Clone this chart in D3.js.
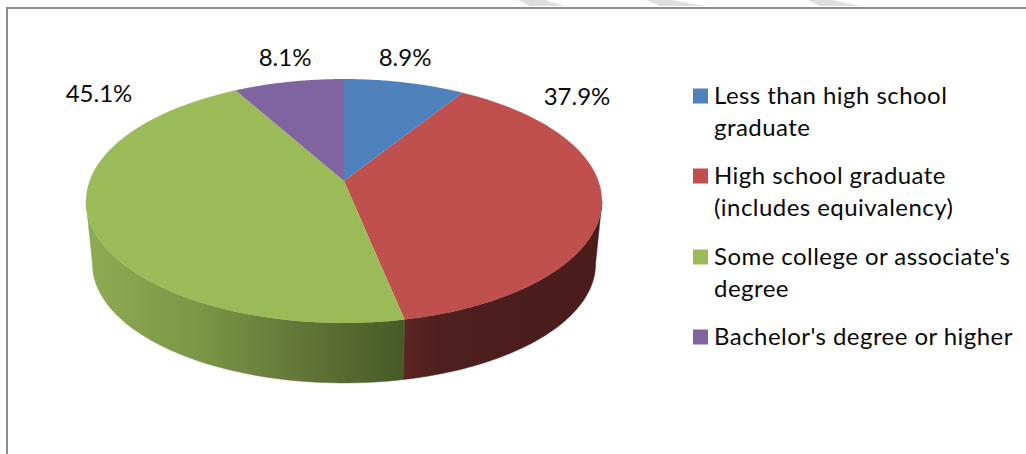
<!DOCTYPE html>
<html>
<head>
<meta charset="utf-8">
<script src="https://cdn.jsdelivr.net/npm/d3@7"></script>
<style>
html,body{margin:0;padding:0;background:#fff;overflow:hidden}
text{font-family:Lato,"Noto Sans",sans-serif;fill:#0a0a0a}
</style>
</head>
<body>
<svg id="c" width="1026" height="454"></svg>
<script>
const categories = ["Less than high school graduate","High school graduate (includes equivalency)","Some college or associate's degree","Bachelor's degree or higher"];
const legendLines = [["Less than high school","graduate"],["High school graduate","(includes equivalency)"],["Some college or associate's","degree"],["Bachelor's degree or higher"]];
const values = [8.9,37.9,45.1,8.1];
const colors = ["#4f81bd","#c0504d","#9bbb59","#8064a2"];
const labelPos = [[405,57],[577,96],[99,93],[285,57]];
const stripes = [[518,545,530,565],[646,672,660,705],[808,832,820,861]];

const svg = d3.select("#c");
const defs = svg.append("defs");

// Remains of the cropped page watermark above the chart frame
svg.append("g").selectAll("path").data(stripes).join("path")
  .attr("d",d=>d3.line()([[d[0],0],[d[1],0],[d[3],6],[d[2],6]])+"Z")
  .attr("fill","#dedede");

// Perspective projection of the pie disc
const cx = 344, cy = 181, a = 254.5, b = 118.7, k = 0.164;
function project(theta, scale, dy){
  const u = Math.sin(theta), v = Math.cos(theta), w = 1 + k*v;
  return [cx + scale*a*u/w, cy + dy - scale*b*v/w];
}
const arcs = d3.pie().sort(null).value(d=>d)(values);
const line = d3.line();
const steps = (s,e)=>d3.range(0,61).map(i=>s+(e-s)*i/60);

// Border
svg.append("path").attr("d","M7 454V8H1026").attr("fill","none").attr("stroke","#8c8c8c").attr("stroke-width",2);

// Side wall
const rightT = Math.PI - Math.acos(k), leftT = Math.PI + Math.acos(k);
const g1 = defs.append("linearGradient").attr("id","gGreen").attr("gradientUnits","userSpaceOnUse").attr("x1",86).attr("x2",405).attr("y1",0).attr("y2",0);
[[0,"#8fab52"],[0.35,"#7b9747"],[0.65,"#647838"],[1,"#475a27"]].forEach(s=>g1.append("stop").attr("offset",s[0]).attr("stop-color",s[1]));
const g2 = defs.append("linearGradient").attr("id","gRed").attr("gradientUnits","userSpaceOnUse").attr("x1",404).attr("x2",602).attr("y1",0).attr("y2",0);
[[0,"#5c2624"],[0.2,"#4d1f1e"],[1,"#4a1d1c"]].forEach(s=>g2.append("stop").attr("offset",s[0]).attr("stop-color",s[1]));
const walls = [{i:1,fill:"url(#gRed)"},{i:2,fill:"url(#gGreen)"}];
const dy = 63.5, sBottom = 0.975;
walls.forEach(w=>{
  const s = Math.max(arcs[w.i].startAngle,rightT), e = Math.min(arcs[w.i].endAngle,leftT);
  const ts = steps(s,e);
  const pts = ts.map(t=>project(t,1,0)).concat(ts.slice().reverse().map(t=>project(t,sBottom,dy)));
  svg.append("path").attr("d",line(pts)+"Z").attr("fill",w.fill).attr("stroke",w.fill).attr("stroke-width",0.5);
});

// Top face
svg.append("g").selectAll("path").data(arcs).join("path")
  .attr("d",d=>line([[cx,cy]].concat(steps(d.startAngle,d.endAngle).map(t=>project(t,1,0))))+"Z")
  .attr("fill",(d,i)=>colors[i]);

// Data labels
svg.append("g").selectAll("text").data(values).join("text")
  .attr("x",(d,i)=>labelPos[i][0]).attr("y",(d,i)=>labelPos[i][1]+9)
  .attr("text-anchor","middle").attr("font-size",24)
  .text(d=>d.toFixed(1)+"%");

// Legend
const legendY = [96,176,257,337];
const lg = svg.append("g").selectAll("g").data(categories).join("g");
lg.append("rect").attr("x",693).attr("y",(d,i)=>legendY[i]-7.5).attr("width",15).attr("height",15).attr("fill",(d,i)=>colors[i]);
lg.each(function(d,i){
  d3.select(this).selectAll("text").data(legendLines[i]).join("text")
    .attr("x",714).attr("y",(t,j)=>legendY[i]+8+j*32).attr("font-size",24).attr("letter-spacing",0.45).text(t=>t);
});
</script>
</body>
</html>
